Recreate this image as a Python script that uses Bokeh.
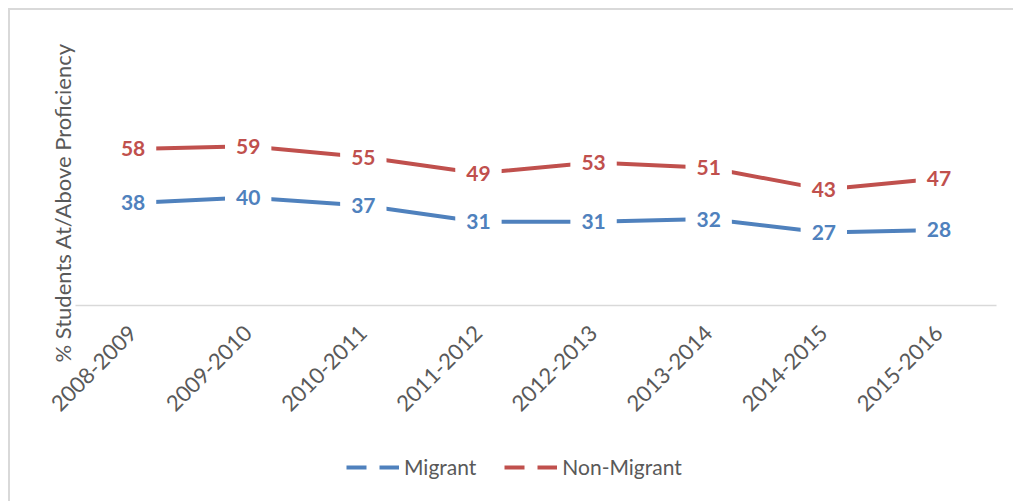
import math
from bokeh.plotting import figure
from bokeh.layouts import column
from bokeh.models import FactorRange, Range1d, Legend, LegendItem, Title
from bokeh.core.properties import value
from bokeh.embed import file_html
from bokeh.resources import INLINE

years = ["2008-2009", "2009-2010", "2010-2011", "2011-2012",
         "2012-2013", "2013-2014", "2014-2015", "2015-2016"]
migrant = [38, 40, 37, 31, 31, 32, 27, 28]
non_migrant = [58, 59, 55, 49, 53, 51, 43, 47]
series_names = ["Migrant", "Non-Migrant"]
colors = ["#4F81BD", "#C0504D"]
y_title = "% Students At/Above Proficiency"

FONT = "Lato"
GRAY = "#595959"

p = figure(width=1013, height=440, x_range=FactorRange(*years, range_padding=0),
           y_range=Range1d(0, 100), output_backend="svg", toolbar_location=None,
           y_axis_location=None,
           min_border_left=75, min_border_right=17, min_border_top=35,
           min_border_bottom=135)
p.title.visible = False
p.outline_line_color = None
p.border_fill_color = None
p.background_fill_color = None
p.xgrid.visible = False
p.ygrid.visible = False

ax = p.xaxis[0]
ax.axis_line_color = "#d9d9d9"
ax.axis_line_width = 1.5
ax.major_tick_line_color = None
ax.minor_tick_line_color = None
ax.major_label_orientation = math.pi / 4
ax.major_label_text_font = FONT
ax.major_label_text_font_size = "22px"
ax.major_label_text_color = GRAY
ax.major_label_standoff = 18

for vals, col in zip([migrant, non_migrant], colors):
    p.line(x=years, y=vals, line_width=4, line_color=col)
    p.text(x=years, y=vals, text=[str(v) for v in vals],
           text_align="center", text_baseline="middle",
           text_font=value(FONT), text_font_style="bold",
           text_font_size="21px", text_color=col,
           background_fill_color="white", padding=(11, 3))

p.add_layout(Title(text=y_title, align="left", offset=-57, standoff=0,
                   text_font=FONT, text_font_size="22px",
                   text_font_style="normal", text_color=GRAY), "left")

# legend strip
q = figure(width=1013, height=61, x_range=Range1d(0, 1), y_range=Range1d(0, 1),
           output_backend="svg", toolbar_location=None, min_border=0,
           x_axis_location=None, y_axis_location=None)
q.title.visible = False
q.outline_line_color = None
q.border_fill_color = None
q.background_fill_color = None
q.xgrid.visible = False
q.ygrid.visible = False

items = []
for name, col in zip(series_names, colors):
    r = q.line(x=[float("nan")], y=[float("nan")], line_width=4,
               line_color=col, line_dash="20 13")
    items.append(LegendItem(label=name, renderers=[r]))

legend = Legend(items=items, orientation="horizontal", location=(271, 22),
                border_line_color=None, background_fill_alpha=0,
                padding=0, spacing=28, glyph_width=53, glyph_height=20,
                label_standoff=5, label_text_font=FONT,
                label_text_font_size="21px", label_text_color=GRAY,
                margin=0)
q.add_layout(legend)

layout = column(p, q, spacing=0)
layout.styles = {"box-shadow": "inset 8px 8px 0 0 white, inset 10px 10px 0 0 #d9d9d9"}

open("out.html", "w").write(file_html(layout, INLINE))
